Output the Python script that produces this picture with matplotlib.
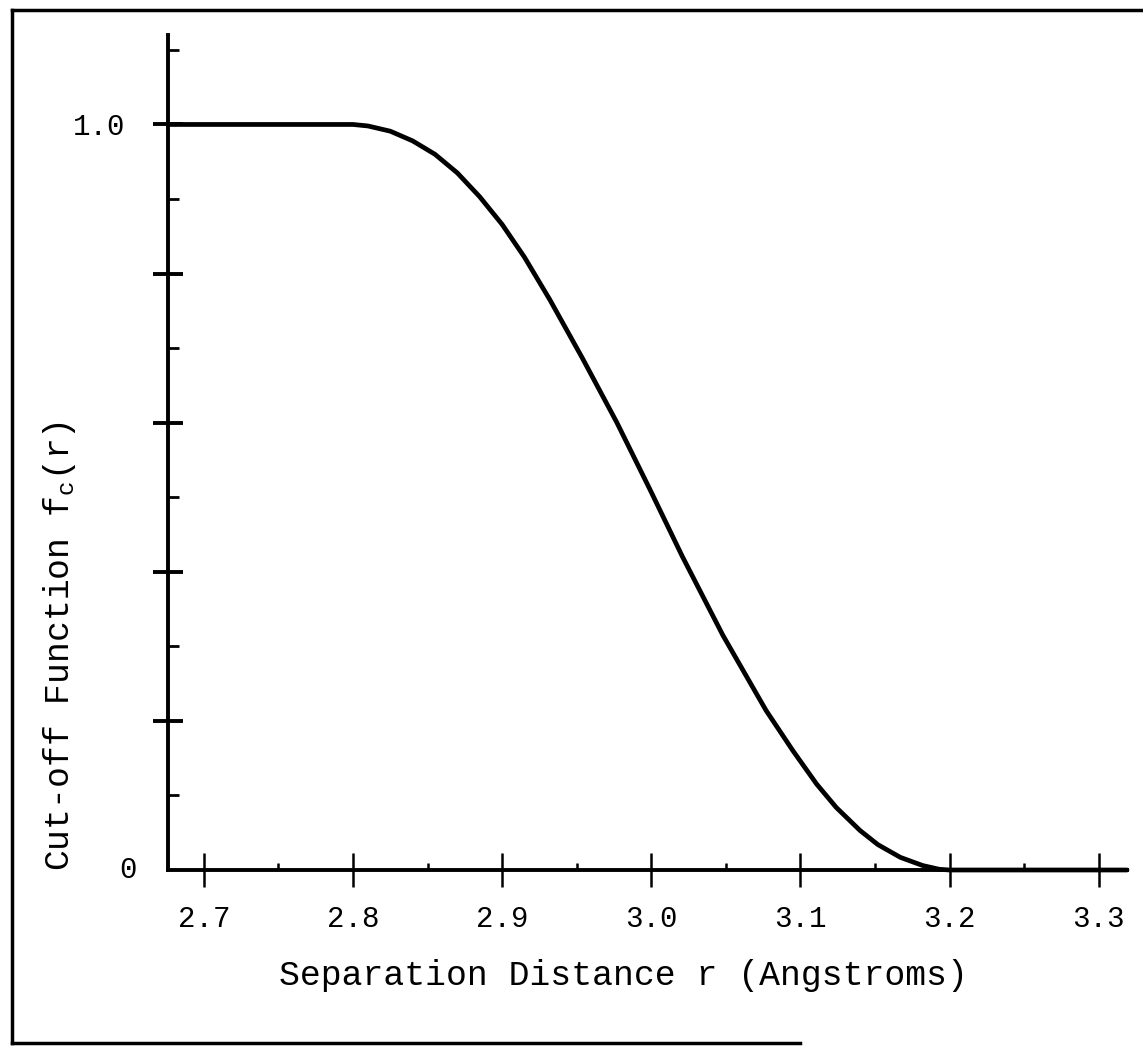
import matplotlib
matplotlib.use("Agg")
import matplotlib.pyplot as plt
from matplotlib.lines import Line2D

plt.rcParams['font.family'] = ['Liberation Mono', 'DejaVu Sans Mono']
plt.rcParams['mathtext.fontset'] = 'custom'
plt.rcParams['mathtext.rm'] = 'Liberation Mono'
plt.rcParams['mathtext.it'] = 'Liberation Mono'

# values
r = [2.676, 2.800, 2.810, 2.825, 2.840, 2.855, 2.870, 2.885, 2.900, 2.915,
     2.932, 2.954, 2.977, 2.999, 3.021, 3.048, 3.077, 3.095, 3.111, 3.124,
     3.140, 3.152, 3.167, 3.182, 3.193, 3.200, 3.319]
fc = [1.0, 1.0, 0.998, 0.991, 0.978, 0.960, 0.935, 0.903, 0.866, 0.822,
      0.765, 0.686, 0.600, 0.511, 0.420, 0.315, 0.214, 0.160, 0.115, 0.084,
      0.053, 0.034, 0.017, 0.006, 0.001, 0.0, 0.0]

x_major = [2.7, 2.8, 2.9, 3.0, 3.1, 3.2, 3.3]
x_labels = ['2.7', '2.8', '2.9', '3.0', '3.1', '3.2', '3.3']
x_minor = [2.75, 2.85, 2.95, 3.05, 3.15, 3.25]
y_major = [0.2, 0.4, 0.6, 0.8, 1.0]
y_labels = ['', '', '', '', '1.0']
y_minor = [0.1, 0.3, 0.5, 0.7, 0.9, 1.1]

W, H = 1143, 1048
fig = plt.figure(figsize=(W / 100, H / 100), dpi=100)

# axes box in pixels of the picture
left, right, top, bottom = 168, 1127, 35, 870
ax = fig.add_axes([left / W, 1 - bottom / H, (right - left) / W, (bottom - top) / H])

ax.plot(r, fc, color='black', lw=3.4, solid_capstyle='round',
        solid_joinstyle='round', clip_on=False, zorder=3)

ax.set_xlim(2.676, 3.319)
ax.set_ylim(0, 1.12)

for s in ['top', 'right']:
    ax.spines[s].set_visible(False)
for s in ['left', 'bottom']:
    ax.spines[s].set_linewidth(2.8)

ax.set_xticks(x_major)
ax.set_xticklabels(x_labels, fontsize=21)
ax.set_xticks(x_minor, minor=True)
ax.set_yticks(y_major)
ax.set_yticklabels(y_labels, fontsize=21)
ax.set_yticks(y_minor, minor=True)

ax.tick_params(axis='x', which='major', direction='inout', length=25, width=1.8, pad=13)
ax.tick_params(axis='x', which='minor', direction='in', length=5, width=1.8)
ax.tick_params(axis='y', which='major', direction='inout', length=21, width=2.8, pad=20)
ax.tick_params(axis='y', which='minor', direction='in', length=8, width=2)

ax.annotate('0', xy=(0, 0), xycoords='axes fraction', xytext=(-40, 0),
            textcoords='offset pixels', ha='center', va='center', fontsize=21)

fig.text(623 / W, 1 - 975 / H, 'Separation Distance r (Angstroms)',
         ha='center', va='center', fontsize=25)
fig.text(60 / W, 1 - 646 / H, 'Cut-off Function f$_\\mathrm{c}$(r)',
         ha='center', va='center', rotation=90, fontsize=25)

# frame of the scanned page
fig.add_artist(Line2D([12 / W, 1.0], [1 - 10 / H, 1 - 10 / H], color='black', lw=2.5))
fig.add_artist(Line2D([12 / W, 12 / W], [1 - 10 / H, 1 - 1043 / H], color='black', lw=2.5))
fig.add_artist(Line2D([12 / W, 800 / W], [1 - 1043 / H, 1 - 1043 / H], color='black', lw=2.5))

fig.savefig('out.png', dpi=100)
